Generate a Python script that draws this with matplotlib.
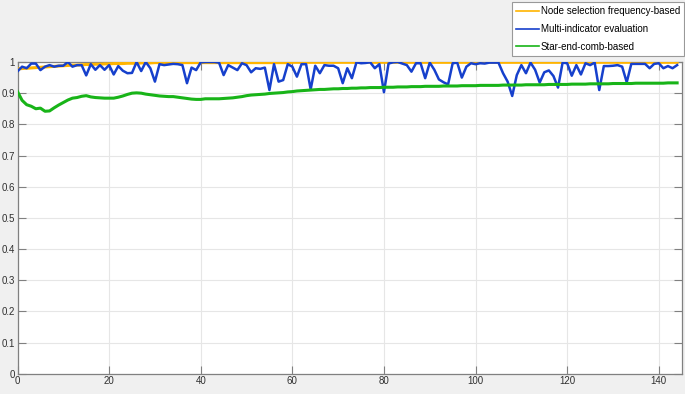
import matplotlib
matplotlib.use("Agg")
import matplotlib.pyplot as plt
from matplotlib.lines import Line2D
import numpy as np

iterations = list(range(0, 145))

node_selection = [
    0.978, 0.979, 0.980, 0.981, 0.982, 0.983, 0.984, 0.985, 0.986, 0.987,
    0.988, 0.989, 0.990, 0.990, 0.991, 0.992, 0.992, 0.993, 0.993, 0.994,
    0.994, 0.995, 0.995, 0.995, 0.996, 0.996, 0.996, 0.997, 0.997, 0.997,
    0.998, 0.998, 0.998, 0.998, 0.998, 0.998, 0.998, 0.998, 0.998, 0.998,
    0.998, 0.998, 0.998, 0.998, 0.998, 0.998, 0.998, 0.998, 0.998, 0.998,
    0.998, 0.998, 0.998, 0.998, 0.998, 0.998, 0.998, 0.998, 0.998, 0.998,
    0.999, 0.999, 0.999, 0.999, 0.999, 0.999, 0.999, 0.999, 0.999, 0.999,
    0.999, 0.999, 0.999, 0.999, 0.999, 0.999, 0.999, 0.999, 0.999, 0.999,
    0.999, 0.999, 0.999, 0.999, 0.999, 0.999, 0.999, 0.999, 0.999, 0.999,
    0.999, 0.999, 0.999, 0.999, 0.999, 0.999, 0.999, 0.999, 0.999, 0.999,
    0.999, 0.999, 0.999, 0.999, 0.999, 0.999, 0.999, 0.999, 0.999, 0.999,
    0.999, 0.999, 0.999, 0.999, 0.999, 0.999, 0.999, 0.999, 0.999, 0.999,
    0.999, 0.999, 0.999, 0.999, 0.999, 0.999, 0.999, 0.999, 0.999, 0.999,
    0.999, 0.999, 0.999, 0.999, 0.999, 0.999, 0.999, 0.999, 0.999, 0.999,
    0.999, 0.999, 0.999, 0.999, 0.999,
]

multi_indicator = [
    0.970, 0.985, 0.980, 0.995, 0.995, 0.974, 0.985, 0.990, 0.985, 0.988,
    0.988, 1.000, 0.985, 0.990, 0.990, 0.957, 0.993, 0.975, 0.990, 0.975,
    0.990, 0.960, 0.987, 0.972, 0.964, 0.965, 1.000, 0.971, 1.000, 0.980,
    0.937, 0.993, 0.990, 0.992, 0.994, 0.993, 0.990, 0.932, 0.982, 0.974,
    0.999, 1.000, 1.000, 1.000, 0.998, 0.958, 0.990, 0.982, 0.974, 0.996,
    0.990, 0.967, 0.980, 0.978, 0.982, 0.910, 0.993, 0.937, 0.942, 0.993,
    0.985, 0.953, 0.993, 0.993, 0.912, 0.988, 0.964, 0.990, 0.988, 0.988,
    0.980, 0.932, 0.980, 0.948, 0.999, 0.996, 0.997, 0.999, 0.980, 0.993,
    0.903, 0.995, 0.999, 1.000, 0.995, 0.990, 0.969, 0.996, 0.996, 0.948,
    0.998, 0.975, 0.944, 0.935, 0.928, 0.996, 0.998, 0.950, 0.985, 0.996,
    0.993, 0.996, 0.995, 0.998, 0.998, 0.998, 0.964, 0.937, 0.891, 0.958,
    0.990, 0.964, 0.998, 0.975, 0.934, 0.967, 0.973, 0.955, 0.918, 0.998,
    0.996, 0.956, 0.990, 0.960, 0.996, 0.990, 0.998, 0.910, 0.987, 0.987,
    0.988, 0.990, 0.985, 0.935, 0.994, 0.994, 0.994, 0.994, 0.980, 0.994,
    0.996, 0.980, 0.987, 0.980, 0.990,
]

star_end_comb = [
    0.905, 0.877, 0.863, 0.858, 0.850, 0.852, 0.842, 0.843, 0.853, 0.862,
    0.870, 0.878, 0.884, 0.886, 0.890, 0.892, 0.888, 0.886, 0.885, 0.884,
    0.884, 0.884, 0.887, 0.891, 0.896, 0.900, 0.901, 0.900, 0.897, 0.895,
    0.893, 0.891, 0.890, 0.889, 0.889, 0.887, 0.885, 0.883, 0.881, 0.880,
    0.880, 0.882, 0.882, 0.882, 0.882, 0.883, 0.884, 0.885, 0.887, 0.889,
    0.892, 0.894, 0.895, 0.896, 0.897, 0.899, 0.900, 0.901, 0.902, 0.904,
    0.905, 0.907, 0.908, 0.909, 0.910, 0.911, 0.912, 0.912, 0.913, 0.914,
    0.914, 0.915, 0.915, 0.916, 0.916, 0.917, 0.917, 0.918, 0.918, 0.918,
    0.919, 0.919, 0.919, 0.920, 0.920, 0.920, 0.921, 0.921, 0.921, 0.922,
    0.922, 0.922, 0.922, 0.923, 0.923, 0.923, 0.923, 0.924, 0.924, 0.924,
    0.924, 0.925, 0.925, 0.925, 0.925, 0.925, 0.926, 0.926, 0.926, 0.926,
    0.926, 0.927, 0.927, 0.927, 0.927, 0.927, 0.928, 0.928, 0.928, 0.928,
    0.928, 0.929, 0.929, 0.929, 0.929, 0.930, 0.930, 0.930, 0.930, 0.930,
    0.931, 0.931, 0.931, 0.931, 0.931, 0.932, 0.932, 0.932, 0.932, 0.932,
    0.932, 0.932, 0.933, 0.933, 0.933,
]

series_labels = ["Node selection frequency-based",
                 "Multi-indicator evaluation",
                 "Star-end-comb-based"]
x_ticks = [0, 20, 40, 60, 80, 100, 120, 140]
y_ticks = [0, 0.1, 0.2, 0.3, 0.4, 0.5, 0.6, 0.7, 0.8, 0.9, 1.0]
y_tick_labels = ["0", "0.1", "0.2", "0.3", "0.4", "0.5", "0.6", "0.7", "0.8", "0.9", "1"]

colors = ["#FFB400", "#1640CC", "#18B418"]

plt.rcParams['font.family'] = ['Liberation Sans', 'DejaVu Sans']

fig = plt.figure(figsize=(6.85, 3.94), dpi=100, facecolor="#f0f0f0")
ax = fig.add_axes([17.5 / 685, (394 - 373.7) / 394, (681.7 - 17.5) / 685, (373.7 - 62) / 394])
ax.set_facecolor("white")

ax.plot(iterations, node_selection, color=colors[0], lw=2.2, zorder=3)
ax.plot(iterations, multi_indicator, color=colors[1], lw=1.8, zorder=4)
ax.plot(iterations, star_end_comb, color=colors[2], lw=2.2, zorder=5)

ax.set_xlim(0, 145)
ax.set_ylim(0, 1)
ax.set_xticks(x_ticks)
ax.set_xticklabels([str(t) for t in x_ticks])
ax.set_yticks(y_ticks)
ax.set_yticklabels(y_tick_labels)
ax.grid(True, color="#e6e6e6", lw=0.8, zorder=0)
ax.set_axisbelow(True)
ax.tick_params(direction="in", length=6, width=0.8, colors="#808080",
               labelcolor="#303030", labelsize=7, top=True, right=True, pad=2)
for s in ax.spines.values():
    s.set_color("#808080")
    s.set_linewidth(0.9)

handles = [Line2D([], [], color=c, lw=1.2) for c in colors]
leg = fig.legend(handles, series_labels, loc="upper right",
                 bbox_to_anchor=(0.999, 0.995), fontsize=7.0, frameon=True,
                 fancybox=False, edgecolor="#999999", framealpha=1,
                 handlelength=2.3, handletextpad=0.2, labelspacing=0.8,
                 borderpad=0.45, borderaxespad=0)
leg.get_frame().set_linewidth(0.8)

fig.savefig("out.png", dpi=100, facecolor=fig.get_facecolor())
